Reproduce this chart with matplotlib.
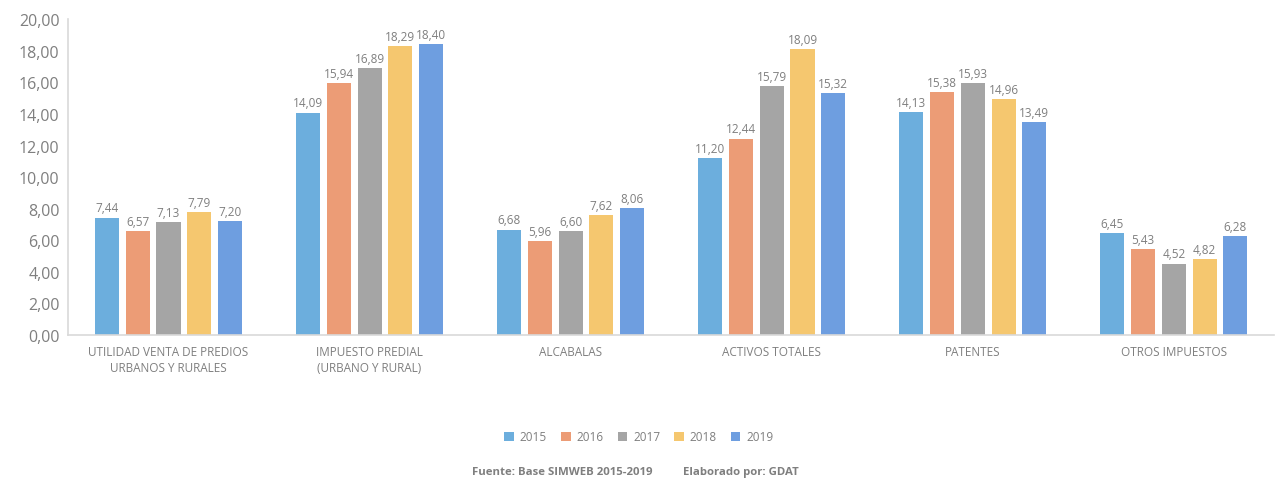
import numpy as np
import matplotlib
matplotlib.use("Agg")
import matplotlib.pyplot as plt

plt.rcParams["font.family"] = ["Open Sans", "DejaVu Sans"]

# data
categories = [
    "UTILIDAD VENTA DE PREDIOS\nURBANOS Y RURALES",
    "IMPUESTO PREDIAL\n(URBANO Y RURAL)",
    "ALCABALAS",
    "ACTIVOS TOTALES",
    "PATENTES",
    "OTROS IMPUESTOS",
]
years = ["2015", "2016", "2017", "2018", "2019"]
v2015 = [7.44, 14.09, 6.68, 11.20, 14.13, 6.45]
v2016 = [6.57, 15.94, 5.96, 12.44, 15.38, 5.43]
v2017 = [7.13, 16.89, 6.60, 15.79, 15.93, 4.52]
v2018 = [7.79, 18.29, 7.62, 18.09, 14.96, 4.82]
v2019 = [7.20, 18.40, 8.06, 15.32, 13.49, 6.28]
series = [v2015, v2016, v2017, v2018, v2019]
colors = ["#6CAEDD", "#EC9C76", "#A5A5A5", "#F5C76F", "#6E9EE0"]

text_color = "#7F7F7F"
fig = plt.figure(figsize=(12.78, 4.81), dpi=100)
ax = fig.add_axes([0.0532, 0.3015, 0.944, 0.6565])

x = np.arange(len(categories))
step = 0.153
width = 0.12
for i, (vals, col, yr) in enumerate(zip(series, colors, years)):
    pos = x + (i - 2) * step
    bars = ax.bar(pos, vals, width=width, color=col, label=yr, zorder=2)
    for b, v in zip(bars, vals):
        ax.text(b.get_x() + b.get_width() / 2, v + 0.2, f"{v:.2f}".replace(".", ","),
                ha="center", va="bottom", fontsize=8.5, color=text_color)

ax.set_xlim(-0.5, len(categories) - 0.5)
ax.set_ylim(0, 20)
ax.set_yticks(np.arange(0, 21, 2))
ax.set_yticklabels([f"{t:.2f}".replace(".", ",") for t in np.arange(0, 21, 2)],
                   fontsize=11.5, color=text_color)
ax.set_xticks(x)
ax.set_xticklabels(categories, fontsize=8.5, color=text_color, linespacing=1.3)
ax.tick_params(axis="both", length=0, pad=6)
ax.tick_params(axis="x", pad=7)

for s in ["top", "right"]:
    ax.spines[s].set_visible(False)
for s in ["left", "bottom"]:
    ax.spines[s].set_color("#D9D9D9")
    ax.spines[s].set_linewidth(1.2)

leg = fig.legend(loc="center", bbox_to_anchor=(0.5, 0.09), ncol=5, frameon=False,
                 fontsize=8.5, handlelength=0.8, handleheight=0.8, columnspacing=1.2,
                 handletextpad=0.5)
for t in leg.get_texts():
    t.set_color(text_color)

fig.text(0.44, 0.018, "Fuente: Base SIMWEB 2015-2019", ha="center", va="center",
         fontsize=8.2, fontweight="bold", color=text_color)
fig.text(0.58, 0.018, "Elaborado por: GDAT", ha="center", va="center",
         fontsize=8.2, fontweight="bold", color=text_color)

fig.savefig("out.png", dpi=100)
